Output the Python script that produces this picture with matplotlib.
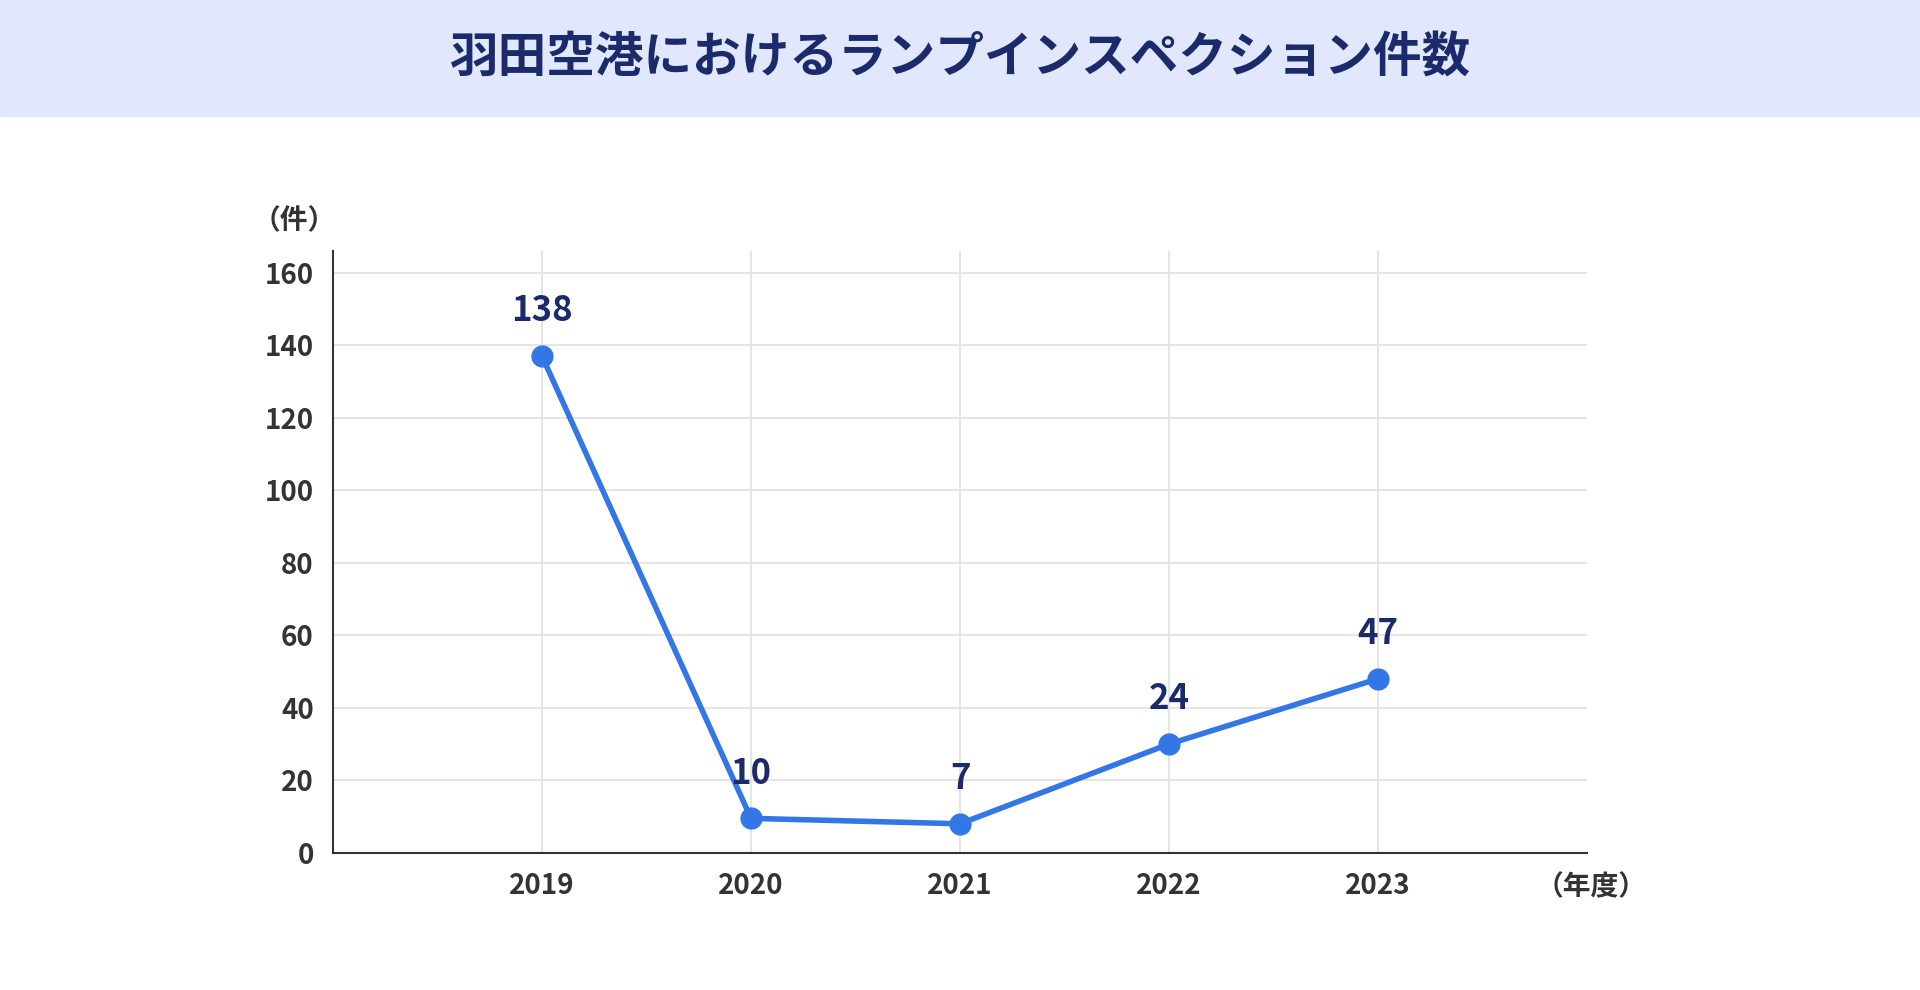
import matplotlib.pyplot as plt
from matplotlib.patches import Rectangle

plt.rcParams['font.family'] = ['Noto Sans CJK JP', 'DejaVu Sans']

years = [2019, 2020, 2021, 2022, 2023]
counts = [137, 9.5, 8, 30, 48]          # plotted positions as drawn
count_labels = ['138', '10', '7', '24', '47']
yticks = [0, 20, 40, 60, 80, 100, 120, 140, 160]

line_col = '#3377E6'
dark = '#1B2A6B'

fig = plt.figure(figsize=(19.2, 9.9), dpi=100)
fig.patches.append(Rectangle((0, 0.8824), 1, 0.1176, transform=fig.transFigure,
                             color='#E1E7FD', zorder=0))
fig.text(0.5, 0.941, '羽田空港におけるランプインスペクション件数', ha='center', va='center',
         fontsize=35, fontweight='bold', color=dark)

ax = fig.add_axes([0.1735, 0.1386, 0.653, 0.6077])
ax.plot(years, counts, color=line_col, lw=4, marker='o', ms=15, zorder=3, clip_on=False)
for x, y, t in zip(years, counts, count_labels):
    ax.annotate(t, (x, y), xytext=(0, 20), textcoords='offset points', ha='center',
                va='bottom', fontsize=25, fontweight='bold', color=dark)

ax.set_xlim(2018, 2024)
ax.set_ylim(0, 166)
ax.set_xticks(years)
ax.set_yticks(yticks)
ax.grid(True, color='#E3E3E3', lw=1.3)
ax.set_axisbelow(True)
for s in ['top', 'right']:
    ax.spines[s].set_visible(False)
for s in ['left', 'bottom']:
    ax.spines[s].set_color('#333333')
    ax.spines[s].set_linewidth(1.5)
ax.tick_params(length=0, labelsize=20, labelcolor='#333333', pad=14)
for lb in ax.get_xticklabels() + ax.get_yticklabels():
    lb.set_fontweight('bold')

fig.text(0.153, 0.777, '（件）', ha='center', va='center', fontsize=20,
         fontweight='bold', color='#333333')
fig.text(0.800, 0.104, '（年度）', ha='left', va='center', fontsize=20,
         fontweight='bold', color='#333333')

fig.savefig('out.png', dpi=100, facecolor='white')
